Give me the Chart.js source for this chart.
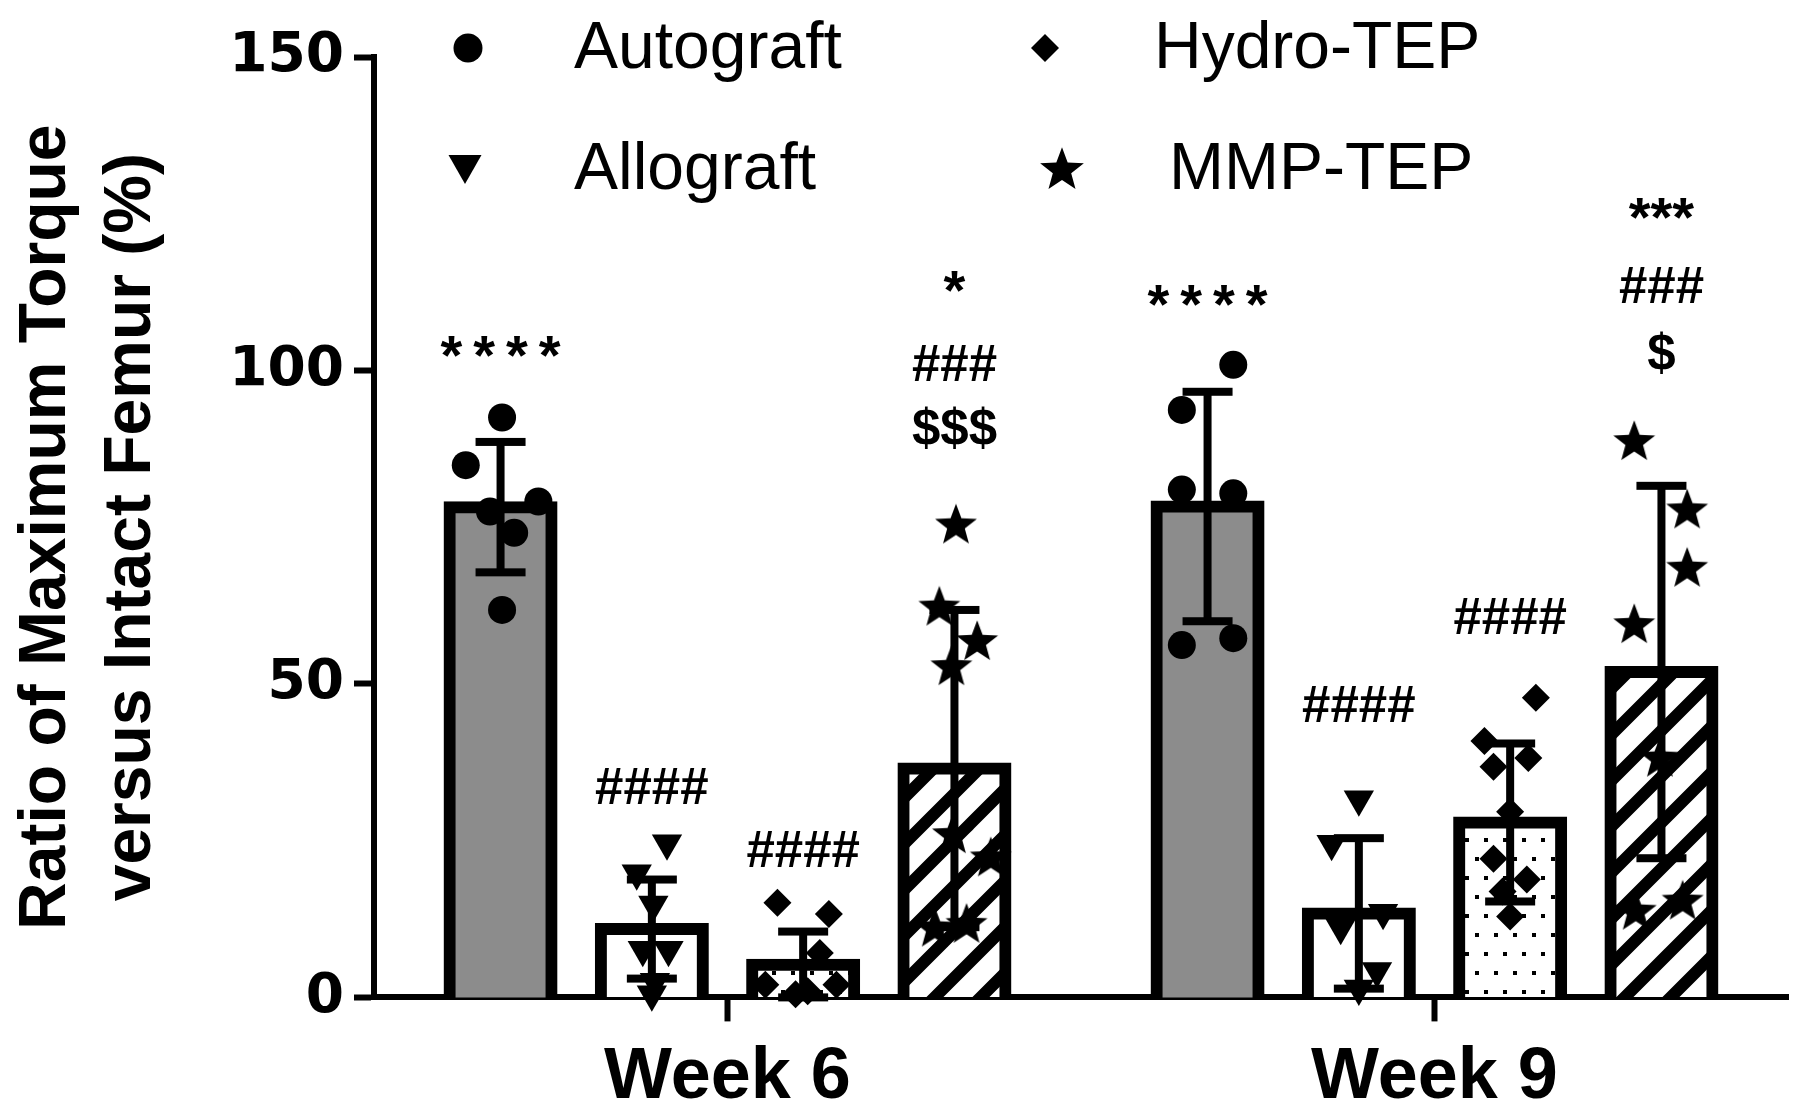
<!DOCTYPE html>
<html>
<head>
<meta charset="utf-8">
<script src="https://cdn.jsdelivr.net/npm/chart.js@4.4.1/dist/chart.umd.min.js"></script>
<style>
  html, body { margin: 0; padding: 0; background: #fff; }
  #torqueChart { display: block; }
</style>
</head>
<body>
<canvas id="torqueChart" width="1800" height="1116"></canvas>
<script>
const weeks = ['Week 6', 'Week 9'];
const groups = ['Autograft', 'Allograft', 'Hydro-TEP', 'MMP-TEP'];
const yTicks = [0, 50, 100, 150];

// bar heights (mean) and error bars (SD), [week 6, week 9]
const autograftMean = [78.2, 78.3];
const allograftMean = [10.9, 13.4];
const hydroMean = [5.2, 27.9];
const mmpMean = [36.5, 51.9];
const autograftSD = [10.4, 18.3];
const allograftSD = [7.9, 12.0];
const hydroSD = [5.3, 12.6];
const mmpSD = [25.3, 29.7];

// single animals, [week 6, week 9]
const autograftPts = [[92.5, 84.9, 77.5, 79.1, 74.1, 61.8], [100.9, 93.7, 81.0, 80.4, 56.2, 57.3]];
const allograftPts = [[24.6, 19.8, 14.8, 7.6, 7.6, 2.5, 0.5], [31.6, 24.5, 11.1, 13.5, 4.2, 1.4]];
const hydroPts = [[15.1, 13.3, 7.1, 2.0, 0.5, 2.0, 1.0], [47.8, 40.9, 36.8, 38.2, 29.6, 22.1, 18.8, 16.9, 12.9]];
const mmpPts = [[75.6, 62.5, 57.0, 53.0, 22.5, 26.2, 11.9, 11.3], [88.9, 78.0, 68.7, 59.7, 38.4, 14.0, 15.6]];

// sideways spread of each dot, as a fraction of one bar slot
const autograftSpread = [[0.01, -0.23, -0.07, 0.25, 0.09, 0.01], [0.17, -0.17, -0.17, 0.17, -0.17, 0.17]];
const allograftSpread = [[0.1, -0.1, 0.01, -0.06, 0.11, 0.02, 0], [0, -0.18, -0.12, 0.16, 0.12, 0]];
const hydroSpread = [[-0.17, 0.17, 0.11, -0.25, -0.05, 0.22, 0.03], [0.17, -0.17, -0.11, 0.12, 0, -0.11, 0.11, -0.05, 0]];
const mmpSpread = [[0.01, -0.1, 0.15, -0.02, 0.24, -0.01, 0.08, -0.13], [-0.18, 0.17, 0.17, -0.18, -0.01, -0.17, 0.14]];

// significance marks: text, week, group, height in axis units
const sigText = ['****', '####', '####', '*', '###', '$$$', '****', '####', '####', '***', '###', '$'];
const sigWeek = [0, 0, 0, 0, 0, 0, 1, 1, 1, 1, 1, 1];
const sigGroup = [0, 1, 2, 3, 3, 3, 0, 1, 2, 3, 3, 3];
const sigLevel = [101.9, 33.1, 23.1, 112.2, 100.5, 90.3, 110.1, 46.1, 60.2, 123.9, 113.0, 102.3];

const means = [autograftMean, allograftMean, hydroMean, mmpMean];
const sds = [autograftSD, allograftSD, hydroSD, mmpSD];

// one week = 1 unit on the hidden linear axis
const slot = 0.856 / groups.length;

function hatchPattern() {
    const t = 46;
    const c = document.createElement('canvas');
    c.width = t; c.height = t;
    const g = c.getContext('2d');
    g.fillStyle = '#fff';
    g.fillRect(0, 0, t, t);
    g.strokeStyle = '#000';
    g.lineWidth = 12;
    g.beginPath();
    for (let k = -1; k <= 3; k++) {
        g.moveTo(-t, k * t + t);
        g.lineTo(2 * t, k * t - 2 * t);
    }
    g.stroke();
    return g.createPattern(c, 'repeat');
}

function dotPattern() {
    const c = document.createElement('canvas');
    c.width = 38; c.height = 38;
    const g = c.getContext('2d');
    g.fillStyle = '#fff';
    g.fillRect(0, 0, 38, 38);
    g.fillStyle = '#000';
    [[2, 2], [21, 2], [12, 21], [31, 21]].forEach(p => g.fillRect(p[0], p[1], 4, 4));
    return g.createPattern(c, 'repeat');
}

function starImage(r) {
    const s = Math.ceil(r * 2 + 2);
    const c = document.createElement('canvas');
    c.width = s; c.height = s;
    const g = c.getContext('2d');
    g.fillStyle = '#000';
    g.beginPath();
    for (let i = 0; i < 10; i++) {
        const rr = i % 2 === 0 ? r : r * 0.42;
        const a = -Math.PI / 2 + i * Math.PI / 5;
        g.lineTo(s / 2 + rr * Math.cos(a), s / 2 + rr * Math.sin(a) + r * 0.1);
    }
    g.closePath();
    g.fill();
    return c;
}

const star = starImage(22);
const legendStar = starImage(23);

function spreadPoints(pts, spread, g) {
    const out = [];
    pts.forEach((vals, w) => {
        vals.forEach((v, i) => {
            out.push({ x: w + (g - 1.5) * slot + spread[w][i] * slot, y: v });
        });
    });
    return out;
}

const ctx = document.getElementById('torqueChart').getContext('2d');
const hatch = hatchPattern();
const dots = dotPattern();

function barSet(g, fill) {
    return {
        type: 'bar',
        label: groups[g],
        data: means[g].map((v, w) => ({ x: w + (g - 1.5) * slot, y: v })),
        backgroundColor: fill,
        borderColor: '#000',
        borderWidth: 12,
        inflateAmount: 6,
        grouped: false,
        barThickness: 102,
        xAxisID: 'xs',
        yAxisID: 'y',
        order: 2
    };
}

function dotSet(g, pts, spread, style, radius, rotation) {
    return {
        type: 'scatter',
        label: groups[g] + ' animals',
        data: spreadPoints(pts, spread, g),
        pointStyle: style,
        pointRadius: radius,
        pointHoverRadius: radius,
        pointRotation: rotation,
        pointBackgroundColor: '#000',
        pointBorderColor: '#000',
        pointBorderWidth: 0,
        grouped: false,
        xAxisID: 'xs',
        yAxisID: 'y',
        clip: false,
        order: 1
    };
}

const errorBars = {
    id: 'errorBars',
    afterDatasetsDraw(chart) {
        const c = chart.ctx;
        const y = chart.scales.y;
        c.save();
        c.fillStyle = '#000';
        means.forEach((m, g) => {
            const meta = chart.getDatasetMeta(g);
            m.forEach((v, w) => {
                const bx = meta.data[w].x;
                const top = y.getPixelForValue(v + sds[g][w]);
                const bot = y.getPixelForValue(Math.max(0, v - sds[g][w]));
                c.fillRect(bx - 4, top, 8, bot - top);
                c.fillRect(bx - 25, top - 4, 50, 8);
                c.fillRect(bx - 25, bot - 4, 50, 8);
            });
        });
        c.textAlign = 'center';
        c.textBaseline = 'middle';
        sigText.forEach((t, i) => {
            const bx = chart.getDatasetMeta(sigGroup[i]).data[sigWeek[i]].x;
            const py = y.getPixelForValue(sigLevel[i]);
            let gap = 0;
            if (t === '****') { c.font = 'bold 56px "Liberation Sans"'; gap = 11; }
            else if (t[0] === '*') c.font = 'bold 56px "Liberation Sans"';
            else c.font = 'bold 51px "Liberation Sans"';
            c.letterSpacing = gap + 'px';
            c.fillText(t, bx + gap / 2, py);
        });
        c.restore();
    }
};

const groupLegend = {
    id: 'groupLegend',
    afterDraw(chart) {
        const c = chart.ctx;
        c.save();
        c.fillStyle = '#000';
        // circle
        c.beginPath();
        c.arc(468, 48, 14.5, 0, Math.PI * 2);
        c.fill();
        // down triangle
        c.beginPath();
        c.moveTo(465 - 16.5, 155);
        c.lineTo(465 + 16.5, 155);
        c.lineTo(465, 184);
        c.closePath();
        c.fill();
        // diamond
        c.beginPath();
        c.moveTo(1045 - 14, 48);
        c.lineTo(1045, 34);
        c.lineTo(1045 + 14, 48);
        c.lineTo(1045, 62);
        c.closePath();
        c.fill();
        c.drawImage(legendStar, 1062 - legendStar.width / 2, 168 - legendStar.height / 2);

        c.font = '66px "Liberation Sans"';
        c.textBaseline = 'middle';
        c.textAlign = 'left';
        c.fillText(groups[0], 574, 50);
        c.fillText(groups[1], 574, 171);
        c.fillText(groups[2], 1154, 50);
        c.fillText(groups[3], 1169, 171);
        c.restore();
    }
};

Chart.defaults.font.family = '"Liberation Sans", Arial, sans-serif';
Chart.defaults.color = '#000';

const torqueChart = new Chart(ctx, {
    type: 'bar',
    data: {
        labels: weeks,
        datasets: [
            barSet(0, '#8c8c8c'),
            barSet(1, '#ffffff'),
            barSet(2, dots),
            barSet(3, hatch),
            dotSet(0, autograftPts, autograftSpread, 'circle', 14, 0),
            dotSet(1, allograftPts, allograftSpread, 'triangle', 17.5, 180),
            dotSet(2, hydroPts, hydroSpread, 'rectRot', 14, 0),
            dotSet(3, mmpPts, mmpSpread, star, 22, 0)
        ]
    },
    options: {
        responsive: false,
        animation: false,
        devicePixelRatio: 1,
        layout: { autoPadding: false, padding: { top: 57, right: 12, left: 0, bottom: 0 } },
        plugins: {
            legend: { display: false },
            tooltip: { enabled: false }
        },
        scales: {
            x: {
                type: 'category',
                offset: true,
                grid: { offset: false, drawOnChartArea: false, tickLength: 24, tickWidth: 6, tickColor: '#000' },
                border: { color: '#000', width: 6 },
                ticks: { color: '#000', padding: 14, font: { weight: 'bold', size: 72 } },
                afterFit: (s) => { s.height = 118.6; s.paddingLeft = 0; s.paddingRight = 0; }
            },
            xs: {
                type: 'linear',
                display: false,
                offset: false,
                min: -0.5,
                max: 1.5
            },
            y: {
                min: yTicks[0],
                max: yTicks[yTicks.length - 1],
                afterBuildTicks: (s) => { s.ticks = yTicks.map(v => ({ value: v })); },
                grid: { drawOnChartArea: false, tickLength: 20, tickWidth: 6, tickColor: '#000' },
                border: { color: '#000', width: 6 },
                ticks: { color: '#000', padding: 10, font: { family: '"DejaVu Sans"', weight: 'bold', size: 55 } },
                title: {
                    display: true,
                    text: ['Ratio of Maximum Torque', 'versus Intact Femur (%)'],
                    color: '#000',
                    font: { weight: 'bold', size: 66, lineHeight: 1.29 },
                    padding: { top: 4, bottom: 0 }
                },
                afterFit: (s) => { s.width = 374; }
            }
        }
    },
    plugins: [errorBars, groupLegend]
});
</script>
</body>
</html>
